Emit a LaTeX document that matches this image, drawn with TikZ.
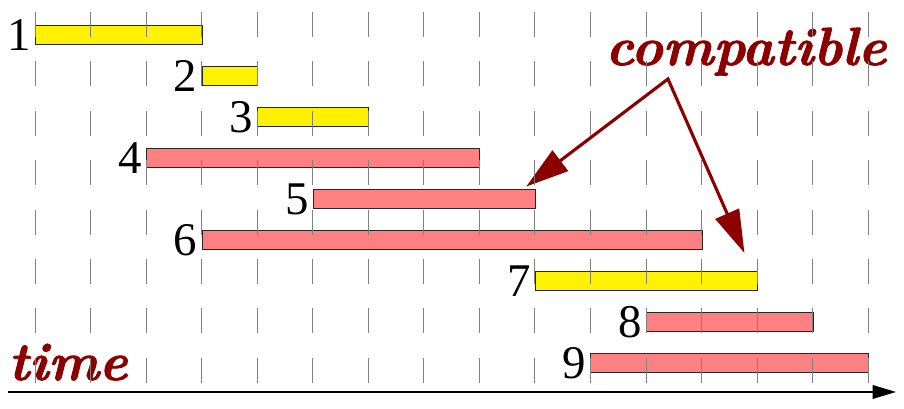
\documentclass[tikz,border=0pt]{standalone}
\usepackage{fontspec}
\usetikzlibrary{arrows.meta,positioning}
\newfontfamily\numfont{Liberation Serif}
\newfontfamily\wordfont{Latin Modern Roman}[BoldItalicFeatures={FakeBold=1.6}]
\definecolor{wordred}{RGB}{140,0,0}
\definecolor{barred}{RGB}{255,128,128}
\tikzset{
    bar/.style={draw=black!85, line width=0.5pt, minimum height=10.2pt, inner sep=0pt, anchor=west},
    num/.style={font=\numfont\fontsize{24}{24}\selectfont, inner sep=2pt},
    word/.style={text=wordred, font=\wordfont\fontsize{27.5}{27.5}\selectfont\bfseries\itshape, inner sep=0pt},
    gridline/.style={gray, line width=0.5pt, dash pattern=on 12.8pt off 12.5pt},
    pointer/.style={wordred, line width=1.6pt, line join=miter,
        {Triangle[length=22pt,width=13pt]}-{Triangle[length=22pt,width=13pt]}}
}

\begin{document}
\begin{tikzpicture}[x=1cm, y=21pt]
    \useasboundingbox (-0.630,-0.122) rectangle (15.644,9.854);
    \node[bar, fill=yellow, minimum width=3cm] (b1) at (0,9) {};
    \node[bar, fill=yellow, minimum width=1cm] (b2) at (3,8) {};
    \node[bar, fill=yellow, minimum width=2cm] (b3) at (4,7) {};
    \node[bar, fill=barred, minimum width=6cm] (b4) at (2,6) {};
    \node[bar, fill=barred, minimum width=4cm] (b5) at (5,5) {};
    \node[bar, fill=barred, minimum width=9cm] (b6) at (3,4) {};
    \node[bar, fill=yellow, minimum width=4cm] (b7) at (9,3) {};
    \node[bar, fill=barred, minimum width=3cm] (b8) at (11,2) {};
    \node[bar, fill=barred, minimum width=5cm] (b9) at (10,1) {};
    \node[num, left=0pt of b1] (n1) {1};
    \node[num, left=0pt of b2] (n2) {2};
    \node[num, left=0pt of b3] (n3) {3};
    \node[num, left=0pt of b4] (n4) {4};
    \node[num, left=0pt of b5] (n5) {5};
    \node[num, left=0pt of b6] (n6) {6};
    \node[num, left=0pt of b7] (n7) {7};
    \node[num, left=0pt of b8] (n8) {8};
    \node[num, left=0pt of b9] (n9) {9};
    \node[word, anchor=base] (cmp) at (12.80,8.268) {compatible};
    \node[word, anchor=base] (tm) at (0.594,0.585) {time};
    \coordinate (apex) at (11.395,7.927);
    \coordinate (tipA) at ([xshift=-5pt,yshift=1pt]b5.north east);
    \coordinate (tipB) at ([xshift=-7pt,yshift=9pt]b7.north east);
    \draw[pointer] (tipA) -- (apex) -- (tipB);
    \coordinate (t0) at (-0.486,0.293);
    \coordinate (t1) at (15.50,0.293);
    \draw[line width=0.8pt, -{Triangle[length=12pt,width=7pt]}] (t0) -- (t1);
    \foreach \x in {0,...,15}
        \draw[gridline] (\x,9.561) -- (\x,0.512);
\end{tikzpicture}
\end{document}
